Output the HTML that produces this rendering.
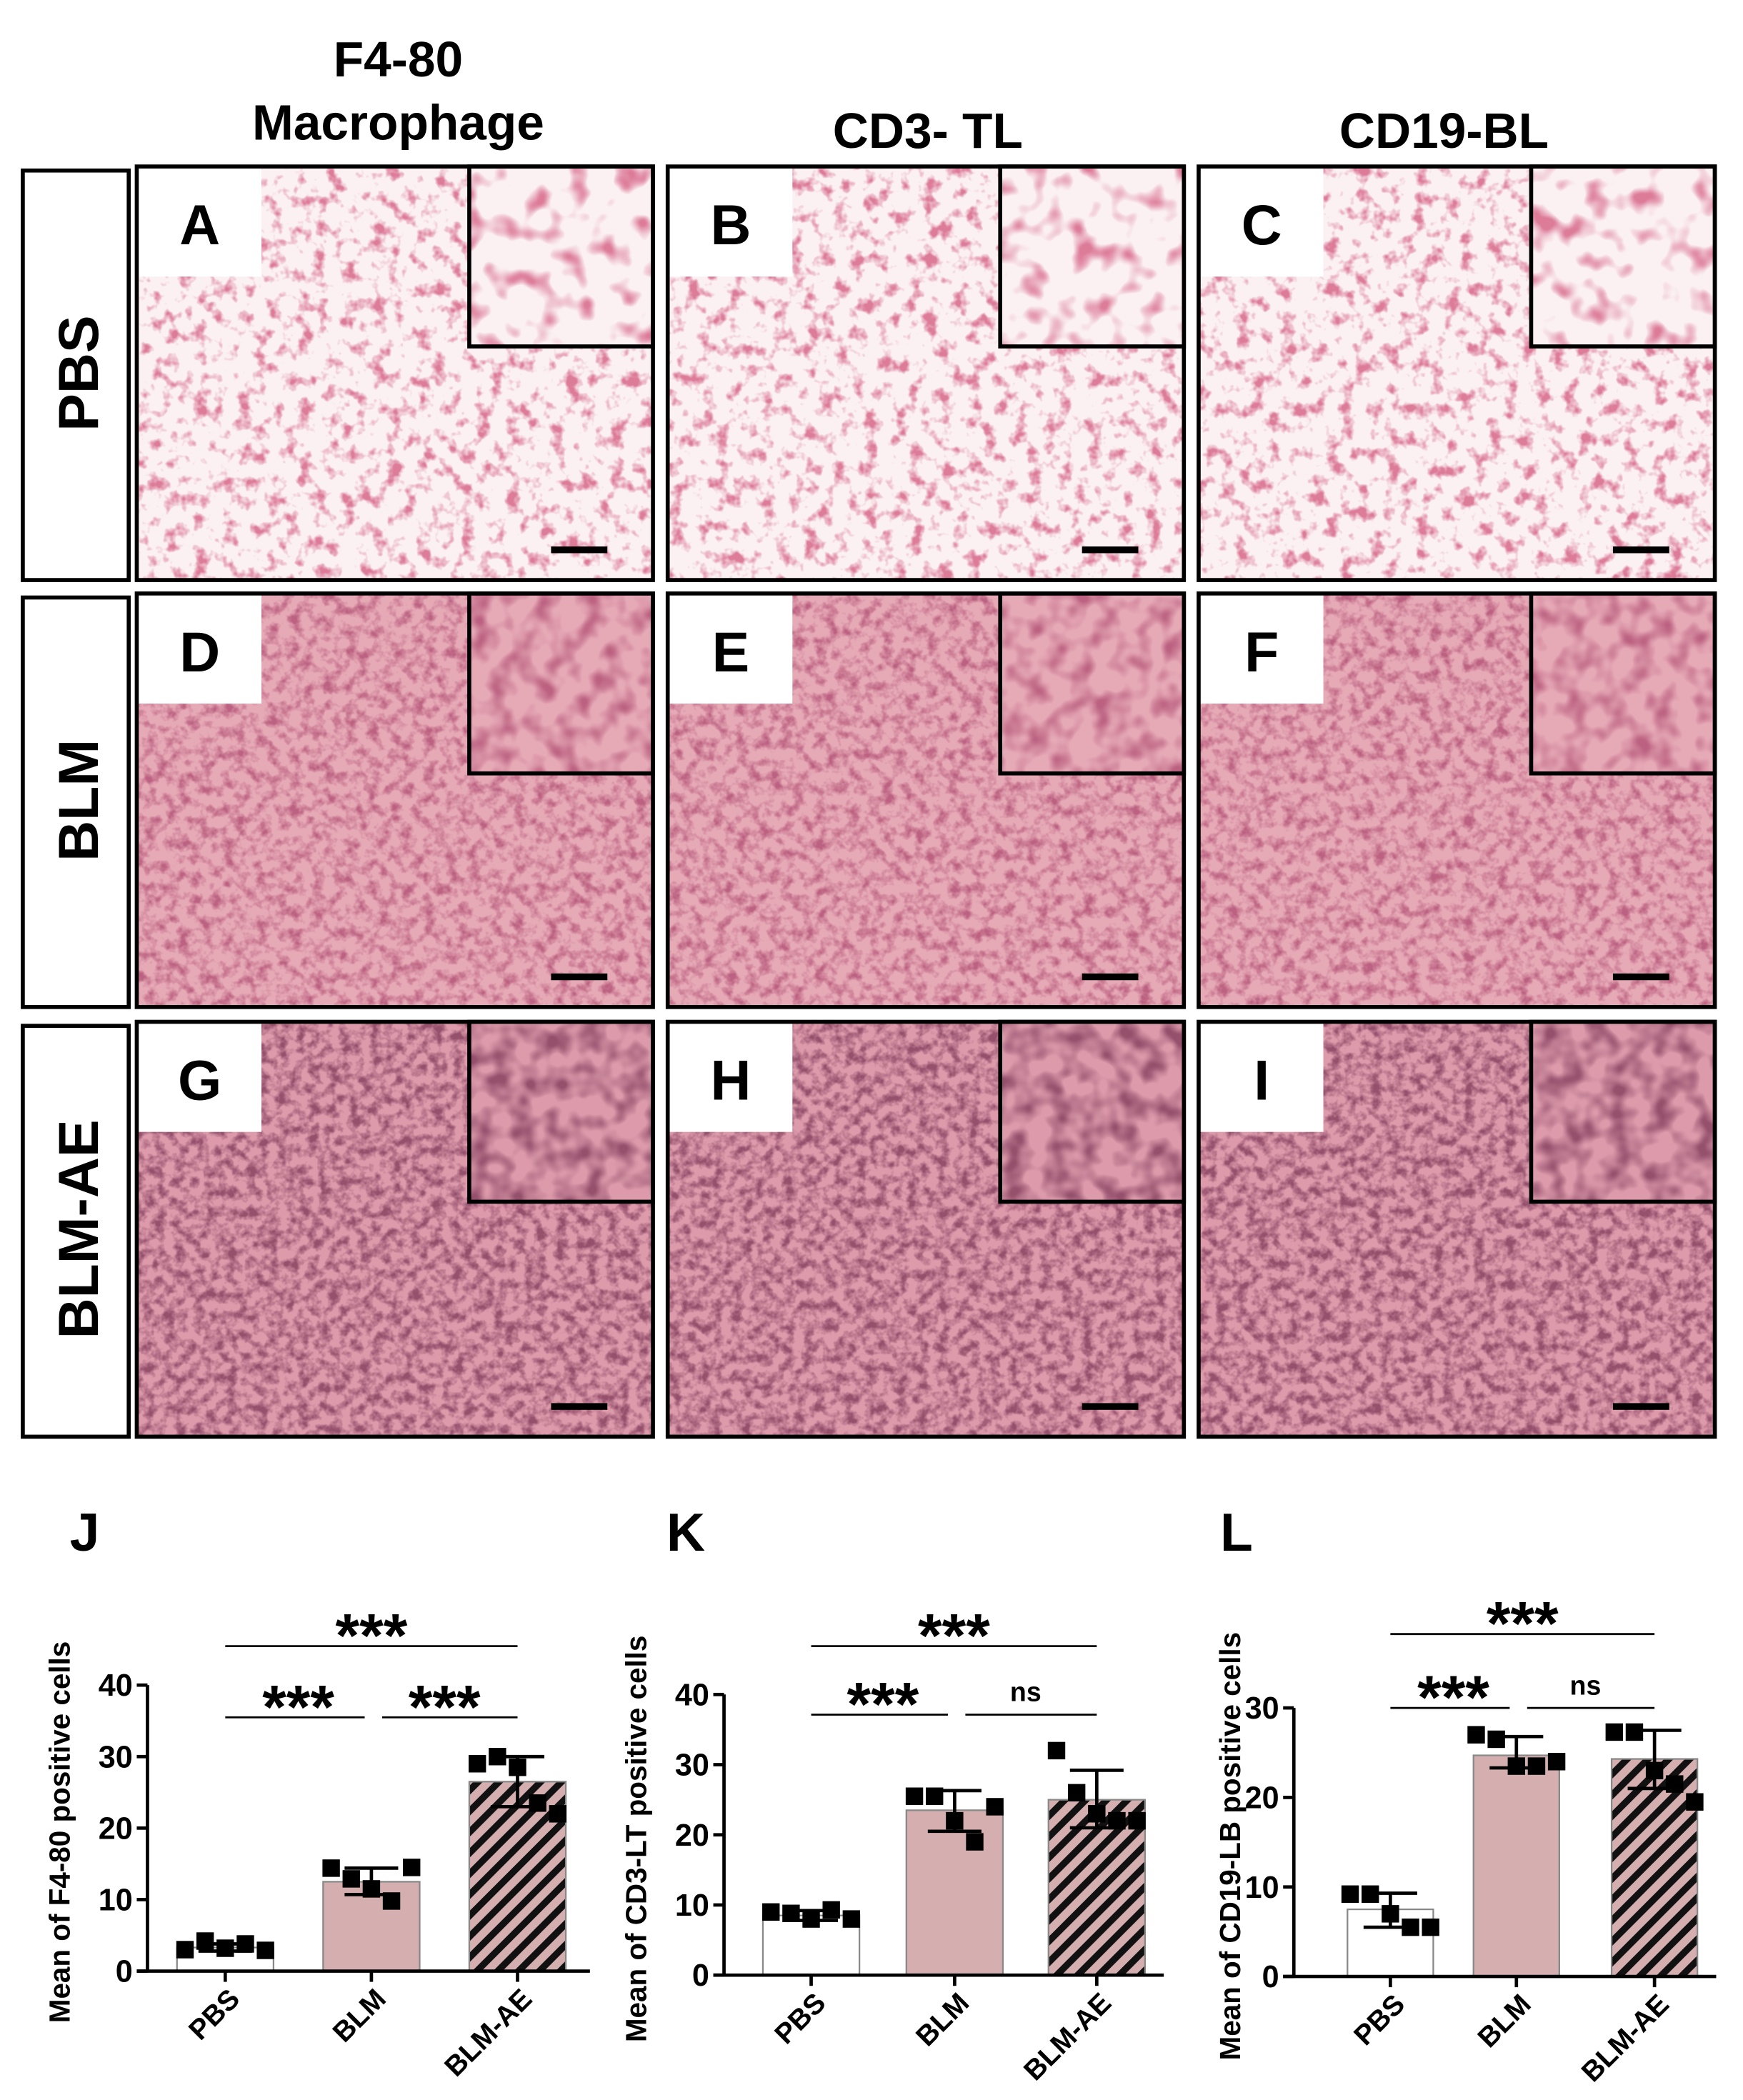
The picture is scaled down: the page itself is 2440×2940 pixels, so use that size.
<!DOCTYPE html>
<html><head><meta charset="utf-8"><style>
html,body{margin:0;padding:0;background:#fff}
svg{display:block}
text{font-family:"Liberation Sans",Arial,sans-serif;font-weight:bold;fill:#000}
</style></head><body>
<svg id="fig" width="2440" height="2940" viewBox="0 0 1300 1564" preserveAspectRatio="none" xmlns="http://www.w3.org/2000/svg">
<defs id="defs">
<filter id="texPBS" x="0" y="0" width="100%" height="100%">
<feTurbulence type="fractalNoise" baseFrequency="0.09" numOctaves="3" seed="3"/>
<feColorMatrix type="matrix" values="0 0 0 0 0.72  0 0 0 0 0.2  0 0 0 0 0.32  4 0 0 0 -2.05"/>
</filter>
<filter id="texBLM" x="0" y="0" width="100%" height="100%">
<feTurbulence type="fractalNoise" baseFrequency="0.12" numOctaves="3" seed="7"/>
<feColorMatrix type="matrix" values="0 0 0 0 0.5  0 0 0 0 0.12  0 0 0 0 0.22  2.8 0 0 0 -1.2"/>
</filter>
<filter id="texAE" x="0" y="0" width="100%" height="100%">
<feTurbulence type="fractalNoise" baseFrequency="0.13" numOctaves="3" seed="11"/>
<feColorMatrix type="matrix" values="0 0 0 0 0.3  0 0 0 0 0.08  0 0 0 0 0.15  2.8 0 0 0 -1.1"/>
</filter>
<filter id="texPBSi" x="0" y="0" width="100%" height="100%">
<feTurbulence type="fractalNoise" baseFrequency="0.05" numOctaves="2" seed="5"/>
<feColorMatrix type="matrix" values="0 0 0 0 0.72  0 0 0 0 0.2  0 0 0 0 0.32  4 0 0 0 -2.05"/>
</filter>
<filter id="texBLMi" x="0" y="0" width="100%" height="100%">
<feTurbulence type="fractalNoise" baseFrequency="0.06" numOctaves="2" seed="9"/>
<feColorMatrix type="matrix" values="0 0 0 0 0.5  0 0 0 0 0.12  0 0 0 0 0.22  2.8 0 0 0 -1.2"/>
</filter>
<filter id="texAEi" x="0" y="0" width="100%" height="100%">
<feTurbulence type="fractalNoise" baseFrequency="0.06" numOctaves="2" seed="13"/>
<feColorMatrix type="matrix" values="0 0 0 0 0.3  0 0 0 0 0.08  0 0 0 0 0.15  2.8 0 0 0 -1.1"/>
</filter>
<pattern id="hatch" width="11" height="11" patternUnits="userSpaceOnUse" patternTransform="rotate(45)">
<rect width="11" height="11" fill="#d5afaf"/><rect width="5" height="11" fill="#111"/>
</pattern>
</defs>
<g id="micro"></g>
<g id="charts"></g>
</svg>
<script>
const NS="http://www.w3.org/2000/svg";
function mk(tag,attrs,parent,txt){const e=document.createElementNS(NS,tag);for(const k in attrs)e.setAttribute(k,attrs[k]);if(txt!==undefined)e.textContent=txt;parent.appendChild(e);return e;}
const micro=document.getElementById('micro');
let t=mk('text',{x:297,y:57,'font-size':37,'text-anchor':'middle'},micro,'F4-80');


t=mk('text',{x:297,y:104,'font-size':37,'text-anchor':'middle'},micro,'Macrophage');


t=mk('text',{x:692,y:110,'font-size':37,'text-anchor':'middle'},micro,'CD3- TL');


t=mk('text',{x:1077,y:110,'font-size':37,'text-anchor':'middle'},micro,'CD19-BL');


const rows=[{n:'PBS',y:124,h:308,base:'#fbf1f2',f:'texPBS'},{n:'BLM',y:442,h:308,base:'#e6a9b6',f:'texBLM'},{n:'BLM-AE',y:761,h:309,base:'#dc9aab',f:'texAE'}];
const cols=[102,498,894];
const letters='ABCDEFGHI';
rows.forEach((r,ri)=>{
  const rb=mk('rect',{x:17,y:r.y+3,width:79,height:r.h-3,fill:'#fff',stroke:'#000','stroke-width':3},micro);
  
  
  const cy=r.y+r.h/2;
  const rt=mk('text',{x:0,y:0,'font-size':42,'text-anchor':'middle',transform:`translate(73,${cy}) rotate(-90)`},micro,r.n);
  
  
  cols.forEach((cx,ci)=>{
    const w=385;
    const g=mk('g',{},micro);
    
    
    mk('rect',{x:cx,y:r.y,width:w,height:r.h,fill:r.base},g);
    mk('rect',{x:cx,y:r.y,width:w,height:r.h,filter:`url(#${r.f})`},g);
    mk('rect',{x:cx,y:r.y,width:93,height:82,fill:'#fff'},g);
    mk('text',{x:cx+47,y:r.y+58,'font-size':42,'text-anchor':'middle'},g,letters[ri*3+ci]);
    const ix=cx+w-137;
    mk('rect',{x:ix,y:r.y,width:137,height:134,fill:r.base},g);
    mk('rect',{x:ix,y:r.y,width:137,height:134,filter:`url(#${r.f}i)`},g);
    mk('rect',{x:ix,y:r.y,width:137,height:134,fill:'none',stroke:'#000','stroke-width':3},g);
    mk('rect',{x:cx,y:r.y,width:w,height:r.h,fill:'none',stroke:'#000','stroke-width':3},g);
    mk('rect',{x:cx+w-76,y:r.y+r.h-25,width:42,height:5,fill:'#000'},g);
  });
});
</script>
<script>
const categories=['PBS','BLM','BLM-AE'];
const jMeans=[3.3,12.5,26.5];
const jErrLo=[2.8,10.7,23.0];
const jErrHi=[3.8,14.4,30.0];
const jPoints=[[3.0,4.2,3.2,3.8,2.9],[14.4,12.9,11.5,9.8,14.5],[29.0,30.0,28.5,23.5,22.0]];
const kMeans=[8.5,23.5,25.0];
const kErrLo=[7.8,20.5,21.0];
const kErrHi=[9.2,26.3,29.2];
const kPoints=[[9.0,8.8,8.0,9.3,8.0],[25.5,25.5,22.0,19.0,24.0],[32.0,26.0,23.0,22.0,22.0]];
const lMeans=[7.5,24.7,24.3];
const lErrLo=[5.5,23.3,21.0];
const lErrHi=[9.3,26.8,27.5];
const lPoints=[[9.2,9.2,7.0,5.5,5.5],[27.0,26.5,23.5,23.5,24.0],[27.3,27.3,23.0,21.5,19.5]];
const jTicks=[0,10,20,30,40];
const kTicks=[0,10,20,30,40];
const lTicks=[0,10,20,30];
const yTitles=['Mean of F4-80 positive cells','Mean of CD3-LT positive cells','Mean of CD19-LB positive cells'];
const sigLabels=[['***','***','***'],['***','***','ns'],['***','***','ns']];
const panelLetters=['J','K','L'];

const charts=document.getElementById('charts');
const cfgs=[
 {id:'j',letterX:52,axisX:110,xEnd:440,y0:1468,yTopVal:40,yTopPx:1255,centers:[168,277,386],bw:72,means:jMeans,lo:jErrLo,hi:jErrHi,pts:jPoints,ticks:jTicks,topLine:1226,midLine:1279,titleX:52},
 {id:'k',letterX:497,axisX:540,xEnd:868,y0:1471,yTopVal:40,yTopPx:1262,centers:[605,712,818],bw:72,means:kMeans,lo:kErrLo,hi:kErrHi,pts:kPoints,ticks:kTicks,topLine:1226,midLine:1277,titleX:482},
 {id:'l',letterX:910,axisX:965,xEnd:1280,y0:1472,yTopVal:30,yTopPx:1272,centers:[1037,1131,1234],bw:64,means:lMeans,lo:lErrLo,hi:lErrHi,pts:lPoints,ticks:lTicks,topLine:1217,midLine:1272,titleX:925}
];
const offs=[-2,-1,0,1,2];
cfgs.forEach((c,ci)=>{
  const g=mk('g',{},charts);
  
  
  const yS=v=>c.y0-(v/c.yTopVal)*(c.y0-c.yTopPx);
  const L=mk('text',{x:c.letterX,y:1155,'font-size':40},g,panelLetters[ci]);
  
  
  c.means.forEach((m,i)=>{
    const fill=i===0?'#fff':(i===1?'#d5afaf':'url(#hatch)');
    const b=mk('rect',{x:c.centers[i]-c.bw/2,y:yS(m),width:c.bw,height:c.y0-yS(m),fill:fill,stroke:'#888','stroke-width':1.2},g);
    
    
  });
  c.means.forEach((m,i)=>{
    const cx=c.centers[i];
    const e=mk('g',{stroke:'#000','stroke-width':2.5},g);
    
    
    mk('line',{x1:cx,x2:cx,y1:yS(c.lo[i]),y2:yS(c.hi[i])},e);
    mk('line',{x1:cx-20,x2:cx+20,y1:yS(c.lo[i]),y2:yS(c.lo[i])},e);
    mk('line',{x1:cx-20,x2:cx+20,y1:yS(c.hi[i]),y2:yS(c.hi[i])},e);
    c.pts[i].forEach((p,k)=>{
      const s=mk('rect',{x:cx+offs[k]*15-6.5,y:yS(p)-6.5,width:13,height:13,fill:'#000'},g);
      
      
    });
  });
  const ax=mk('g',{stroke:'#000','stroke-width':2.5},g);
  
  
  mk('line',{x1:c.axisX,x2:c.axisX,y1:c.y0,y2:c.yTopPx},ax);
  mk('line',{x1:c.axisX-8,x2:c.xEnd,y1:c.y0,y2:c.y0},ax);
  c.ticks.forEach(v=>{
    mk('line',{x1:c.axisX-8,x2:c.axisX,y1:yS(v),y2:yS(v)},ax);
    const tl=mk('text',{x:c.axisX-11,y:yS(v)+8,'font-size':23,'text-anchor':'end'},g,String(v));
    
    
  });
  c.centers.forEach((cx,i)=>{
    mk('line',{x1:cx,x2:cx,y1:c.y0,y2:c.y0+8},ax);
    const xl=mk('text',{x:0,y:0,'font-size':21,'text-anchor':'end',transform:`translate(${cx+12},${c.y0+22}) rotate(-45)`},g,categories[i]);
    
    
  });
  const yt=mk('text',{x:0,y:0,'font-size':21.5,'text-anchor':'middle',transform:`translate(${c.titleX},${(c.yTopPx+c.y0)/2+3}) rotate(-90)`},g,yTitles[ci]);
  
  
  const sg=mk('g',{stroke:'#000','stroke-width':1.5},g);
  
  
  const a=c.centers[0],b=c.centers[1],d=c.centers[2];
  mk('line',{x1:a,x2:d,y1:c.topLine,y2:c.topLine},sg);
  mk('line',{x1:a,x2:b-5,y1:c.midLine,y2:c.midLine},sg);
  mk('line',{x1:b+8,x2:d,y1:c.midLine,y2:c.midLine},sg);
  const s1=mk('text',{x:(a+d)/2,y:c.topLine+8,'font-size':46,'text-anchor':'middle'},g,sigLabels[ci][0]);
  
  
  const s2=mk('text',{x:(a+b)/2,y:c.midLine+8,'font-size':46,'text-anchor':'middle'},g,sigLabels[ci][1]);
  
  
  const isNs=sigLabels[ci][2]==='ns';
  const s3=mk('text',{x:(b+d)/2,y:c.midLine+(isNs?-10:8),'font-size':isNs?20:46,'font-weight':isNs?'normal':'bold','text-anchor':'middle'},g,sigLabels[ci][2]);
  
  
});
</script>
</body></html>
